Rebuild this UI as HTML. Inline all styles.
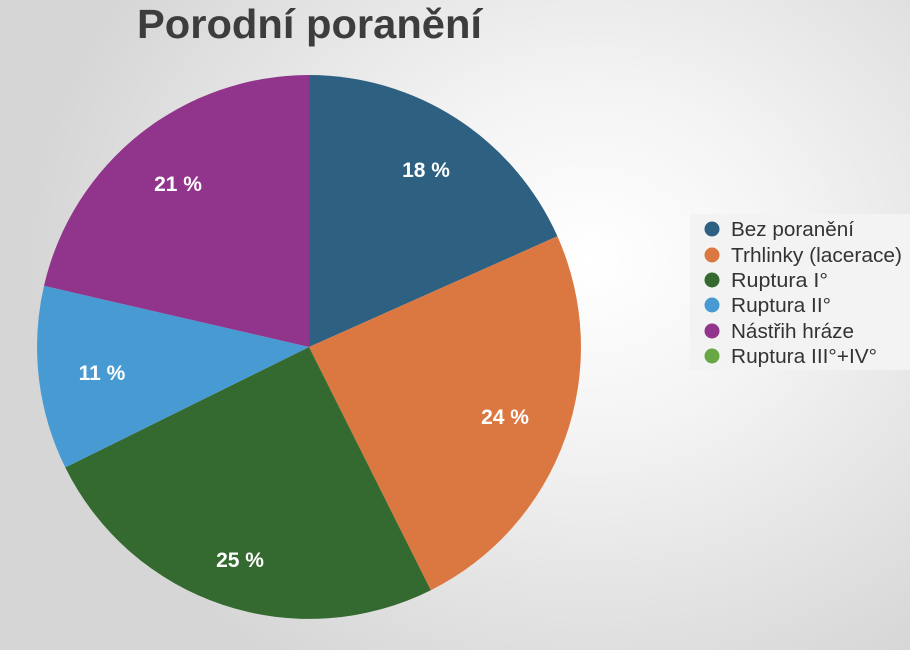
<!DOCTYPE html>
<html><head><meta charset="utf-8"><style>
html,body{margin:0;padding:0;}
body{width:910px;height:650px;overflow:hidden;background:radial-gradient(ellipse 560px 480px at 590px 260px,#ffffff 0%,#f4f4f4 35%,#d6d6d6 100%);font-family:"Liberation Sans",sans-serif;}
</style></head><body>
<svg width="910" height="650" style="position:absolute;left:0;top:0">
<text x="137" y="38" textLength="345" lengthAdjust="spacingAndGlyphs" font-family="Liberation Sans" font-weight="bold" font-size="41" fill="#3d3d3d">Porodní poranění</text>
<path d="M309,347 L309,75 A272,272 0 0 1 557.4,236.3 Z" fill="#2e6081"/>
<path d="M309,347 L557.4,236.3 A272,272 0 0 1 430.8,590.2 Z" fill="#db7842"/>
<path d="M309,347 L430.8,590.2 A272,272 0 0 1 65.3,467.5 Z" fill="#346a2f"/>
<path d="M309,347 L65.3,467.5 A272,272 0 0 1 44,285.8 Z" fill="#489bd2"/>
<path d="M309,347 L44,285.8 A272,272 0 0 1 309,75 Z" fill="#91348b"/>
<g font-family="Liberation Sans" font-weight="bold" font-size="21" fill="#fff" text-anchor="middle">
<text x="426" y="177">18 %</text>
<text x="505" y="424">24 %</text>
<text x="240" y="567">25 %</text>
<text x="102" y="380">11 %</text>
<text x="178" y="191">21 %</text>
</g>
<rect x="690" y="214" width="220" height="156" fill="#f3f3f3"/>
<g font-family="Liberation Sans" font-size="20" fill="#333" lengthAdjust="spacingAndGlyphs">
<circle cx="712" cy="229" r="7.5" fill="#2e6081"/><text x="731" y="236" textLength="123" lengthAdjust="spacingAndGlyphs">Bez poranění</text>
<circle cx="712" cy="255" r="7.5" fill="#db7842"/><text x="731" y="262" textLength="171" lengthAdjust="spacingAndGlyphs">Trhlinky (lacerace)</text>
<circle cx="712" cy="280" r="7.5" fill="#346a2f"/><text x="731" y="287" textLength="97" lengthAdjust="spacingAndGlyphs">Ruptura I°</text>
<circle cx="712" cy="305" r="7.5" fill="#489bd2"/><text x="731" y="312" textLength="100" lengthAdjust="spacingAndGlyphs">Ruptura II°</text>
<circle cx="712" cy="331" r="7.5" fill="#91348b"/><text x="731" y="338" textLength="123" lengthAdjust="spacingAndGlyphs">Nástřih hráze</text>
<circle cx="712" cy="356" r="7.5" fill="#68a844"/><text x="731" y="363" textLength="146" lengthAdjust="spacingAndGlyphs">Ruptura III°+IV°</text>
</g>
</svg>
</body></html>
